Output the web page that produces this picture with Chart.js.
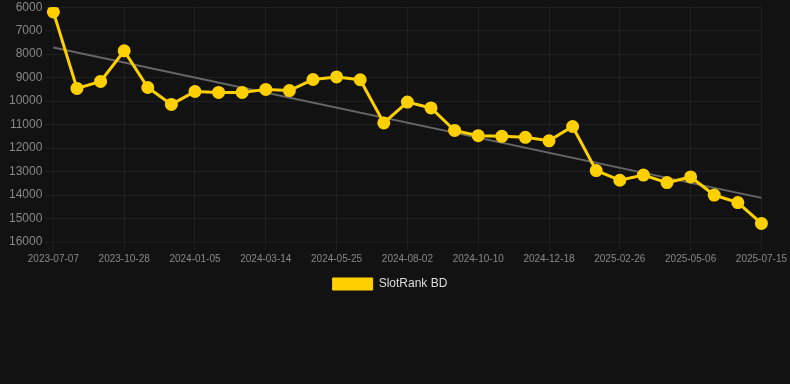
<!DOCTYPE html>
<html>
<head>
<meta charset="utf-8">
<script src="https://cdn.jsdelivr.net/npm/chart.js@4/dist/chart.umd.min.js"></script>
<style>
  html, body { margin: 0; padding: 0; background: #121212; }
  #wrap { width: 790px; height: 303px; margin-top: -3px; }
</style>
</head>
<body>
<div id="wrap"><canvas id="myChart"></canvas></div>
<script>
const dates = [
  "2023-07-07", "2023-08-20", "2023-09-25", "2023-10-28", "2023-11-20", "2023-12-13",
  "2024-01-05", "2024-01-28", "2024-02-20", "2024-03-14", "2024-04-07", "2024-05-01",
  "2024-05-25", "2024-06-17", "2024-07-10", "2024-08-02", "2024-08-25", "2024-09-17",
  "2024-10-10", "2024-11-02", "2024-11-25", "2024-12-18", "2025-01-10", "2025-02-03",
  "2025-02-26", "2025-03-21", "2025-04-13", "2025-05-06", "2025-05-29", "2025-06-21",
  "2025-07-15"
];
const ranks = [
  6200, 9460, 9160, 7860, 9420, 10140, 9590, 9630, 9630, 9500, 9550, 9080,
  8970, 9090, 10930, 10040, 10290, 11250, 11470, 11500, 11540, 11690, 11080, 12960,
  13370, 13150, 13470, 13230, 14000, 14320, 15210
];
// trend line end points
const trendStart = 7720;
const trendEnd = 14120;

const yellow = "#FFD000";
const gridColor = "rgba(255,255,255,0.06)";
const font = "Arial, 'Liberation Sans', sans-serif";

const ctx = document.getElementById("myChart").getContext("2d");
const chart = new Chart(ctx, {
  type: "line",
  data: {
    labels: dates,
    datasets: [
      {
        label: "SlotRank BD",
        data: ranks,
        borderColor: yellow,
        backgroundColor: yellow,
        borderWidth: 3,
        pointRadius: 5,
        pointHoverRadius: 5,
        pointBackgroundColor: yellow,
        pointBorderColor: yellow,
        tension: 0
      },
      {
        label: "trend",
        data: [
          { x: dates[0], y: trendStart },
          { x: dates[dates.length - 1], y: trendEnd }
        ],
        borderColor: "#666666",
        borderWidth: 2,
        pointRadius: 0,
        fill: false
      }
    ]
  },
  options: {
    responsive: true,
    maintainAspectRatio: false,
    animation: false,
    layout: { padding: { left: 6, right: 16 } },
    scales: {
      x: {
        grid: { color: gridColor },
        ticks: {
          color: "#888",
          font: { family: font, size: 10 },
          maxRotation: 0,
          autoSkip: true,
          maxTicksLimit: 11
        }
      },
      y: {
        reverse: true,
        min: 6000,
        max: 16000,
        grid: { color: gridColor },
        ticks: {
          color: "#888",
          font: { family: font, size: 12 },
          stepSize: 1000,
          callback: v => String(v)
        }
      }
    },
    plugins: {
      legend: {
        position: "bottom",
        labels: {
          color: "#ddd",
          font: { family: font, size: 12 },
          boxWidth: 40,
          boxHeight: 12,
          filter: item => item.datasetIndex === 0,
          generateLabels: c => Chart.defaults.plugins.legend.labels.generateLabels(c)
            .map(item => Object.assign(item, { lineWidth: 1 }))
        }
      },
      tooltip: { enabled: false }
    }
  }
});
</script>
</body>
</html>
